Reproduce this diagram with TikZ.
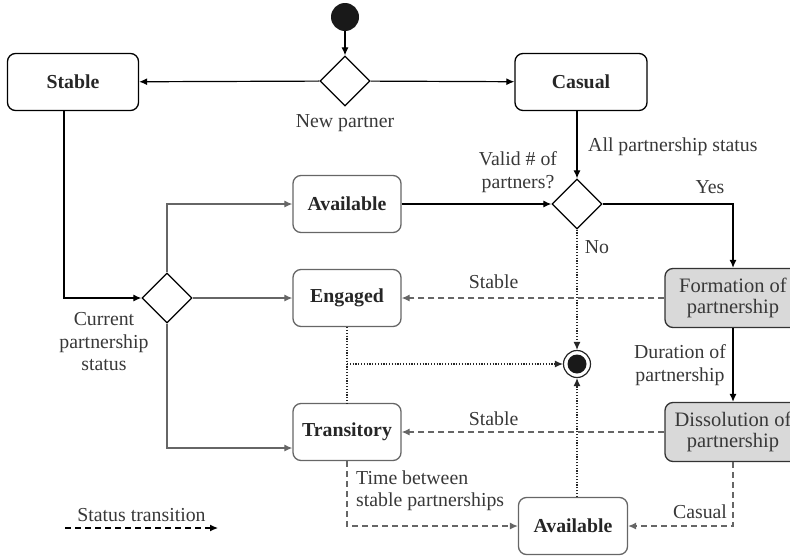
\documentclass[tikz,border=0pt]{standalone}
\usepackage{fontspec}
\setmainfont{Liberation Serif}
\usetikzlibrary{arrows.meta,shapes.geometric}

\colorlet{linegray}{black!60}
\colorlet{textgray}{black!78}

\begin{document}
\begin{tikzpicture}[x=1pt, y=-1pt, font=\fontsize{19.8}{22.5}\selectfont, >={Latex[length=8pt,width=7pt]}]
        \tikzstyle{state}=[draw, rounded corners=8pt, line width=1.3pt, minimum height=57pt, minimum width=108pt, font=\fontsize{19.8}{22.5}\selectfont\bfseries, text=black!85]
        \tikzstyle{gstate}=[state, draw=linegray]
        \tikzstyle{event}=[state, fill=black!15, draw=black!80, align=center, minimum height=59pt, font=\fontsize{20.5}{21}\selectfont, text=textgray]
        \tikzstyle{choice}=[diamond, draw, line width=1.3pt, minimum width=50pt, minimum height=50pt, inner sep=0pt, aspect=1]
        \tikzstyle{label}=[text=textgray, inner sep=2pt]
        \tikzstyle{link}=[->, line width=1.2pt]
        \tikzstyle{glink}=[link, draw=linegray]
        \tikzstyle{dlink}=[link, draw=linegray, dash pattern=on 6pt off 4pt]
        \tikzstyle{dotlink}=[line width=1.1pt, dash pattern=on 1.2pt off 1.6pt, draw=black!85]

        \clip (0,0) rectangle (790,557);

        % nodes
        \node[circle, fill=black!90, minimum size=28pt, inner sep=0pt] (S_0) at (345,17) {};
        \node[choice] (D_1) at (345,81) {};
        \node[state, minimum width=131pt] (S_1) at (73,82) {Stable};
        \node[state, minimum width=132pt] (S_2) at (581,82) {Casual};
        \node[label] at (345,123) {New partner};

        \node[choice] (D_2) at (577,204) {};
        \node[label, anchor=west] at (586,147) {All partnership status};
        \node[label, align=center, font=\fontsize{19.8}{23}\selectfont] at (518,172) {Valid \# of\\partners?};
        \node[label] at (710,187) {Yes};
        \node[label] at (597,247) {No};

        \node[gstate] (S_3) at (347,204) {Available};
        \node[gstate] (S_4) at (347,298) {Engaged};
        \node[gstate] (S_5) at (347,432) {Transitory};
        \node[gstate, minimum width=109pt] (S_6) at (573,526) {Available};

        \node[choice] (D_3) at (167,298) {};
        \node[label, align=center, font=\fontsize{19.8}{22.5}\selectfont] at (104,342) {Current\\partnership\\status};

        \node[event, minimum width=136pt] (E_1) at (733,298) {Formation of\\partnership};
        \node[event, minimum width=136pt] (E_2) at (733,432) {Dissolution of\\partnership};
        \node[label, align=center, font=\fontsize{19.8}{22.5}\selectfont] at (680,365) {Duration of\\partnership};

        \node[circle, draw=black!85, line width=1.2pt, minimum size=27pt, inner sep=0pt] (S_end) at (577,364) {};
        \fill[black!90] (S_end) circle (9.5pt);

        \coordinate (C_1) at (64,111);
        \coordinate (C_2) at (347,364);
        \coordinate (L_1) at (65,528);
        \coordinate (L_2) at (218,528);

        % transitions
        \draw[link] (S_0) -- (D_1);
        \draw[link] (D_1) -- (S_1);
        \draw[link] (D_1) -- (S_2);
        \draw[link] (S_2.south -| D_2.north) -- (D_2.north);
        \draw[link] (D_2.east) -| (E_1.north);
        \draw[link] (S_3) -- (D_2);
        \draw[link] (C_1) |- (D_3.west);
        \draw[link] (E_1) -- (E_2);

        \draw[glink] (D_3.north) |- (S_3.west);
        \draw[glink] (D_3) -- (S_4);
        \draw[glink] (D_3.south) |- ([yshift=-16pt]S_5.west);

        \draw[dotlink, ->] (D_2.south) -- (S_end.north);
        \draw[dotlink] (S_4.south) -- (S_5.north);
        \draw[dotlink, ->] (C_2) -- (S_end.west);
        \draw[dotlink, ->] (S_6.north -| S_end) -- (S_end.south);

        \draw[dlink] (E_1) -- node[label, pos=0.65, above=7pt] {Stable} (S_4);
        \draw[dlink] (E_2) -- node[label, pos=0.65, above=4pt] {Stable} (S_5);
        \draw[dlink] (E_2.south) |- (S_6.east);
        \node[label] at (700,512) {Casual};
        \draw[dlink] (S_5.south) |- (S_6.west);
        \node[label, align=left, anchor=west, font=\fontsize{19.8}{22}\selectfont] at (354,491) {Time between\\stable partnerships};

        % legend
        \draw[link, dash pattern=on 6pt off 4pt] (L_1) -- node[label, above=4pt] {Status transition} (L_2);
\end{tikzpicture}
\end{document}
